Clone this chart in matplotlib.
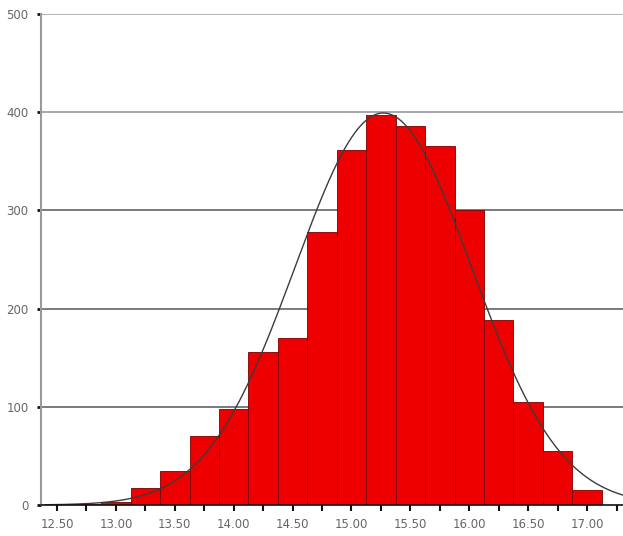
import numpy as np
import matplotlib
import matplotlib.pyplot as plt

matplotlib.use('Agg')

# histogram bins (centres) and counts
bin_centres = [12.75, 13.00, 13.25, 13.50, 13.75, 14.00, 14.25, 14.50, 14.75,
               15.00, 15.25, 15.50, 15.75, 16.00, 16.25, 16.50, 16.75, 17.00]
counts = [1, 3, 17, 35, 70, 98, 156, 170, 278,
          362, 397, 386, 366, 300, 188, 105, 55, 15]
bin_width = 0.25

# fitted normal curve parameters
curve_mean = 15.27
curve_sd = 0.75

tick_labels = ['12.50', '13.00', '13.50', '14.00', '14.50',
               '15.00', '15.50', '16.00', '16.50', '17.00']


def normal_curve(x, n, mu, sd, width):
    return n * width / (sd * np.sqrt(2 * np.pi)) * np.exp(-0.5 * ((x - mu) / sd) ** 2)


fig = plt.figure(figsize=(6.23, 5.36), dpi=100)
ax = fig.add_axes([41 / 623, 31 / 536, 582 / 623, 491 / 536])

ax.set_xlim(12.364, 17.305)
ax.set_ylim(0, 500)

grid_colours = {100: '#7a7a7a', 200: '#7a7a7a', 300: '#7a7a7a',
                400: '#a8a8a8', 500: '#b4b4b4'}
for y, c in grid_colours.items():
    ax.axhline(y, color=c, lw=1.4, zorder=0.5)

ax.bar(bin_centres, counts, width=bin_width, color='#ee0000',
       edgecolor='#7a0000', linewidth=0.6, zorder=2)

xs = np.linspace(12.4, 17.3, 400)
n_total = sum(counts)
ax.plot(xs, normal_curve(xs, n_total, curve_mean, curve_sd, bin_width),
        color='#3c3c3c', lw=1.0, zorder=3)

ax.set_xticks([12.5 + 0.5 * i for i in range(len(tick_labels))])
ax.set_xticklabels(tick_labels)
ax.set_xticks(np.arange(12.5, 17.3, 0.25), minor=True)
ax.set_yticks([0, 100, 200, 300, 400, 500])
ax.set_yticklabels(['0', '100', '200', '300', '400', '500'])

ax.tick_params(axis='x', which='both', length=4, width=1.5, color='#111111',
               labelsize=8.5, labelcolor='#666666', pad=5)
ax.tick_params(axis='y', length=3, width=2, color='#111111',
               labelsize=8.5, labelcolor='#666666', pad=6)

for side in ['top', 'right']:
    ax.spines[side].set_visible(False)
ax.spines['left'].set_color('#9a9a9a')
ax.spines['left'].set_linewidth(1.5)
ax.spines['bottom'].set_color('#111111')
ax.spines['bottom'].set_linewidth(1.2)
ax.spines['bottom'].set_zorder(4)

fig.savefig('out.png', dpi=100)
